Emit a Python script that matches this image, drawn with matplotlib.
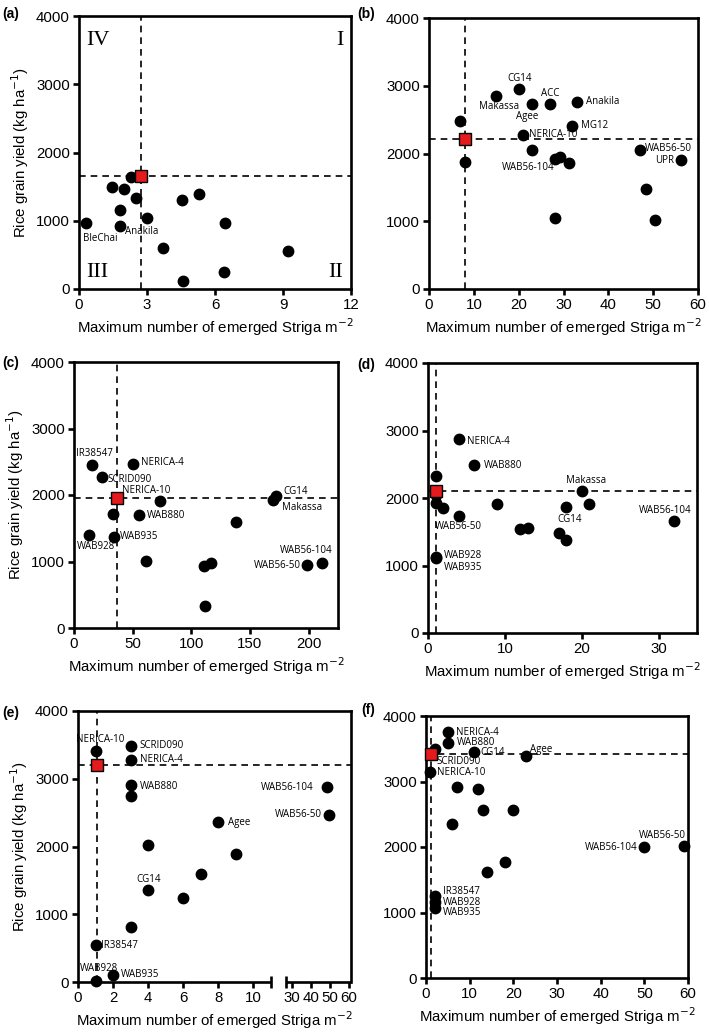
import numpy as np
import matplotlib
matplotlib.use("Agg")
import matplotlib.pyplot as plt

plt.rcParams['font.family'] = ['Liberation Sans', 'DejaVu Sans']

# ---------------- data ----------------
a_x = [0.3, 1.45, 2.0, 2.3, 1.8, 1.8, 2.5, 3.0, 3.7, 4.55, 5.3, 4.6, 6.45, 6.4, 9.2]
a_y = [970, 1500, 1460, 1640, 1160, 930, 1330, 1045, 605, 1310, 1390, 120, 970, 245, 555]
a_lab = ['BleChai', '', '', '', '', 'Anakila', '', '', '', '', '', '', '', '', '']
a_mean = (2.75, 1655)

b_x = [7, 8, 15, 20, 23, 27, 33, 32, 21, 23, 28.2, 29.3, 31.3, 28.2, 47, 56.3, 48.3, 50.3]
b_y = [2480, 1870, 2855, 2950, 2735, 2725, 2765, 2410, 2275, 2055, 1920, 1950, 1860, 1055, 2055, 1900, 1475, 1015]
b_lab = ['', '', 'Makassa', 'CG14', 'Agee', 'ACC', 'Anakila', 'MG12', 'NERICA-10', 'WAB56-104',
         '', '', '', '', 'WAB56-50', 'UPR', '', '']
b_mean = (8.1, 2220)

c_x = [15, 24, 50, 73, 33, 55.5, 13, 34, 61, 111, 117, 112, 138, 169.5, 172.5, 198.5, 211.5]
c_y = [2455, 2265, 2470, 1905, 1720, 1705, 1405, 1370, 1010, 925, 970, 325, 1595, 1920, 1985, 940, 972]
c_lab = ['IR38547', 'SCRID090', 'NERICA-4', 'NERICA-10', '', 'WAB880', 'WAB928', 'WAB935', '', '', '',
         '', '', 'Makassa', 'CG14', 'WAB56-50', 'WAB56-104']
c_mean = (36.4, 1960)

d_x = [4, 6, 1, 1, 1, 2, 4, 9, 12, 13, 17, 18, 18, 20, 21, 32, 1, 1]
d_y = [2870, 2485, 2320, 2040, 1920, 1845, 1740, 1905, 1545, 1555, 1485, 1380, 1870, 2105, 1910, 1665, 1130, 1105]
d_lab = ['NERICA-4', 'WAB880', '', '', '', '', 'WAB56-50', '', '', '', 'CG14', '', '', 'Makassa', '',
         'WAB56-104', 'WAB928', 'WAB935']
d_mean = (1.0, 2110)

e_x = [1, 3, 3, 3, 3, 4, 4, 3, 6, 7, 8, 9, 1, 1, 2, 48.6, 49.5]
e_y = [3415, 3485, 3280, 2905, 2750, 2020, 1355, 810, 1240, 1590, 2355, 1885, 540, 15, 100, 2875, 2465]
e_lab = ['NERICA-10', 'SCRID090', 'NERICA-4', 'WAB880', '', '', 'CG14', '', '', '', 'Agee', '',
         'IR38547', 'WAB928', 'WAB935', 'WAB56-104', 'WAB56-50']
e_mean = (1.1, 3210)

f_x = [5, 5, 2, 11, 23, 1, 7, 12, 13, 20, 6, 14, 18, 50, 59, 2, 2, 2]
f_y = [3760, 3595, 3490, 3450, 3390, 3145, 2915, 2880, 2560, 2570, 2345, 1620, 1765, 1995, 2015, 1250, 1160, 1070]
f_lab = ['NERICA-4', 'WAB880', 'SCRID090', 'CG14', 'Agee', 'NERICA-10', '', '', '', '', '', '', '',
         'WAB56-104', 'WAB56-50', 'IR38547', 'WAB928', 'WAB935']
f_mean = (1.1, 3420)

y_ticks = [0, 1000, 2000, 3000, 4000]
quadrants = ['IV', 'I', 'III', 'II']

# ---------------- label placement (style) ----------------
label_style = {
    'a': {'BleChai': (-2, -11.3, 'left'), 'Anakila': (4, -4, 'left')},
    'b': {'CG14': (1, 7.4, 'center'), 'Makassa': (2, -7.7, 'center'), 'Agee': (-3.8, -8.9, 'center'),
          'ACC': (0, 7.7, 'center'), 'Anakila': (6.5, 0, 'left'), 'MG12': (6.5, 0, 'left'),
          'NERICA-10': (4, 0, 'left'), 'WAB56-104': (-3, -13, 'center'), 'WAB56-50': (4, 1, 'left'),
          'UPR': (-5.3, 0, 'right')},
    'c': {'IR38547': (2, 7.9, 'center'), 'SCRID090': (4, -1.4, 'left'), 'NERICA-4': (5.8, 1, 'left'),
          'NERICA-10': (-10, 8, 'center'), 'WAB880': (5.3, -0.5, 'left'), 'WAB928': (-8.6, -8.4, 'left'),
          'WAB935': (4.3, 0, 'left'), 'CG14': (5.3, 3.4, 'left'), 'Makassa': (6.7, -5, 'left'),
          'WAB56-104': (-11.3, 9.1, 'center'), 'WAB56-50': (-4.6, 0, 'right')},
    'd': {'NERICA-4': (5.8, -1.7, 'left'), 'WAB880': (6.7, 0, 'left'), 'Makassa': (3, 7.2, 'center'),
          'CG14': (8.2, 9.8, 'center'), 'WAB56-104': (-6.5, 7.2, 'center'), 'WAB56-50': (0, -7.7, 'center'),
          'WAB928': (5.8, 0.8, 'left'), 'WAB935': (5.8, -6.2, 'left')},
    'e': {'NERICA-10': (3.4, 7.9, 'center'), 'SCRID090': (6.5, 0, 'left'), 'NERICA-4': (6.5, 0, 'left'),
          'WAB880': (6.5, -1, 'left'), 'Agee': (6.7, 0, 'left'), 'CG14': (0, 7.9, 'center'),
          'IR38547': (4, 0, 'left'), 'WAB928': (2.4, 8.9, 'center'), 'WAB935': (5.8, 0.5, 'left'),
          'WAB56-104': (-10, 0, 'right'), 'WAB56-50': (-5.3, 0, 'right')},
    'f': {'NERICA-4': (6.2, -0.5, 'left'), 'WAB880': (6.2, 0, 'left'), 'CG14': (4.8, 0, 'left'),
          'Agee': (2.4, 5, 'left'), 'SCRID090': (1, -8.6, 'left'), 'NERICA-10': (4.6, -0.6, 'left'),
          'WAB56-50': (-15.6, 7.7, 'center'), 'WAB56-104': (-4.8, 0, 'right'),
          'IR38547': (6, 3.4, 'left'), 'WAB928': (6, 0, 'left'), 'WAB935': (6, -3.4, 'left')},
}

W, H = 709, 1032
fig = plt.figure(figsize=(W / 100, H / 100), dpi=100)


def rect(x0, y0, x1, y1):
    return [x0 / W, 1 - y1 / H, (x1 - x0) / W, (y1 - y0) / H]


XLAB = 'Maximum number of emerged Striga m$^{-2}$'
YLAB = 'Rice grain yield (kg ha$^{-1}$)'
TICKFS = 10.8
ANNFS = 7
SPW = 1.9


def style_axes(ax):
    for s in ax.spines.values():
        s.set_linewidth(SPW)
    ax.tick_params(direction='out', length=4.5, width=SPW, labelsize=TICKFS, pad=2)
    ax.set_ylim(0, 4000)
    ax.set_yticks(y_ticks)


def draw_panel(ax, key, xs, ys, labs, mean):
    ax.axvline(mean[0], color='k', lw=1.2, ls=(0, (4, 3)), zorder=1)
    ax.axhline(mean[1], color='k', lw=1.2, ls=(0, (4, 3)), zorder=1)
    ax.plot(xs, ys, 'o', color='k', ms=7.5, mec='k', zorder=3, clip_on=False)
    ax.plot([mean[0]], [mean[1]], 's', color='#e41a1c', mec='k', mew=1.0, ms=8, zorder=5, clip_on=False)
    for x, y, l in zip(xs, ys, labs):
        if not l:
            continue
        dx, dy, ha = label_style[key][l]
        ax.annotate(l, (x, y), xytext=(dx, dy), textcoords='offset points', ha=ha, va='center',
                    fontsize=ANNFS, family=['Open Sans', 'DejaVu Sans'], zorder=6)


# (a)
ax = fig.add_axes(rect(79, 16, 351, 289))
style_axes(ax)
ax.set_xlim(0, 12)
ax.set_xticks([0, 3, 6, 9, 12])
draw_panel(ax, 'a', a_x, a_y, a_lab, a_mean)
ax.set_xlabel(XLAB, fontsize=TICKFS, labelpad=3)
ax.set_ylabel(YLAB, fontsize=TICKFS, labelpad=4)
qpos = [(0.026, 0.945, 'left', 'top'), (0.972, 0.945, 'right', 'top'),
        (0.026, 0.025, 'left', 'bottom'), (0.972, 0.025, 'right', 'bottom')]
for q, (qx, qy, ha, va) in zip(quadrants, qpos):
    ax.text(qx, qy, q, transform=ax.transAxes, ha=ha, va=va, fontsize=16,
            family=['Liberation Serif', 'DejaVu Serif'])

# (b)
ax = fig.add_axes(rect(429, 18, 698, 289))
style_axes(ax)
ax.set_xlim(0, 60)
ax.set_xticks(range(0, 61, 10))
draw_panel(ax, 'b', b_x, b_y, b_lab, b_mean)
ax.set_xlabel(XLAB, fontsize=TICKFS, labelpad=3)

# (c)
ax = fig.add_axes(rect(74, 362, 338, 628))
style_axes(ax)
ax.set_xlim(0, 225)
ax.set_xticks(range(0, 201, 50))
draw_panel(ax, 'c', c_x, c_y, c_lab, c_mean)
ax.set_xlabel(XLAB, fontsize=TICKFS, labelpad=3)
ax.set_ylabel(YLAB, fontsize=TICKFS, labelpad=4)

# (d)
ax = fig.add_axes(rect(428, 363, 697, 633))
style_axes(ax)
ax.set_xlim(0, 35)
ax.set_xticks([0, 10, 20, 30])
draw_panel(ax, 'd', d_x, d_y, d_lab, d_mean)
ax.set_xlabel(XLAB, fontsize=TICKFS, labelpad=3)

# (e) broken x axis via a function scale
B1, B2, GAP, K = 11.0, 27.0, 0.87, 0.1085


def fwd(x):
    x = np.asarray(x, dtype=float)
    return np.where(x <= B1, x,
                    np.where(x < B2, B1 + (x - B1) * GAP / (B2 - B1),
                             B1 + GAP + (x - B2) * K))


def inv(p):
    p = np.asarray(p, dtype=float)
    return np.where(p <= B1, p,
                    np.where(p < B1 + GAP, B1 + (p - B1) * (B2 - B1) / GAP,
                             B2 + (p - B1 - GAP) / K))


ax = fig.add_axes(rect(78, 711, 351, 982))
style_axes(ax)
ax.set_xscale('function', functions=(fwd, inv))
ax.set_xlim(0, 61)
ax.set_xticks([0, 2, 4, 6, 8, 10, 30, 40, 50, 60])
ax.set_xticklabels(['0', '2', '4', '6', '8', '10', '30', '40', '50', '60'])
ax.spines['bottom'].set_visible(False)
tr = ax.get_xaxis_transform()
ax.plot([0, B1], [0, 0], color='k', lw=SPW, transform=tr, clip_on=False, solid_capstyle='butt', zorder=4)
ax.plot([B2, 61], [0, 0], color='k', lw=SPW, transform=tr, clip_on=False, solid_capstyle='butt', zorder=4)
ax.plot([B1, B2], [0, 0], ls='none', marker='|', ms=8, mew=SPW, color='k', transform=tr,
        clip_on=False, zorder=4)
draw_panel(ax, 'e', e_x, e_y, e_lab, e_mean)
ax.set_xlabel(XLAB, fontsize=TICKFS, labelpad=3)
ax.set_ylabel(YLAB, fontsize=TICKFS, labelpad=4)

# (f)
ax = fig.add_axes(rect(426, 716, 688, 978))
style_axes(ax)
ax.set_xlim(0, 60)
ax.set_xticks(range(0, 61, 10))
draw_panel(ax, 'f', f_x, f_y, f_lab, f_mean)
ax.set_xlabel(XLAB, fontsize=TICKFS, labelpad=3)

# panel letters
for lab, (px, py) in zip(['(a)', '(b)', '(c)', '(d)', '(e)', '(f)'],
                         [(2, 7), (357, 7), (2, 356), (357, 358), (2, 706), (361, 703)]):
    fig.text(px / W, 1 - py / H, lab, ha='left', va='top', fontsize=10, fontweight='bold')

fig.savefig('out.png', dpi=100)
